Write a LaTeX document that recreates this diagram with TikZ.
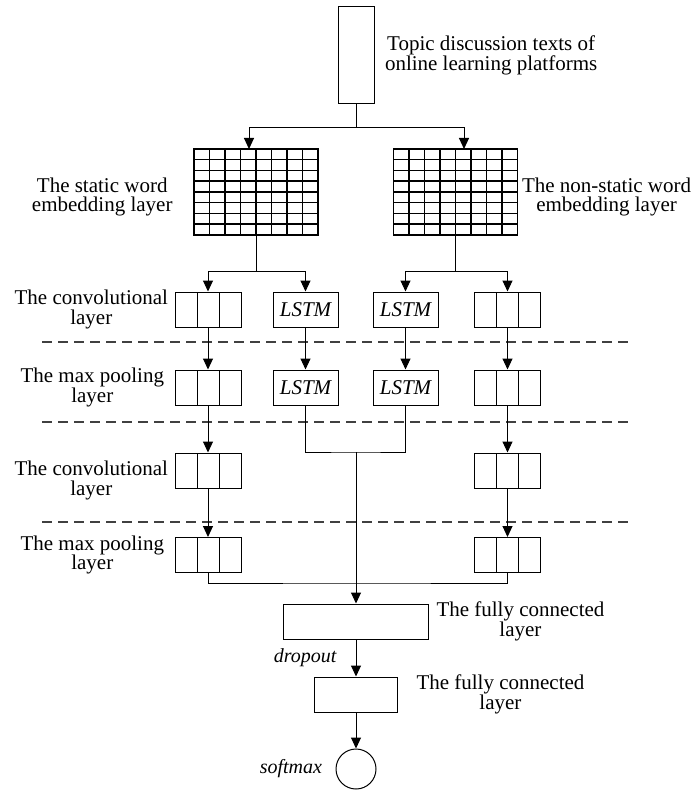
\documentclass[tikz,border=0pt]{standalone}
\usepackage{fontspec}
\setmainfont{Liberation Serif}
\usetikzlibrary{calc,positioning,arrows.meta}

\begin{document}
\begin{tikzpicture}[x=1pt,y=-1pt,line width=1pt,>={Triangle[length=11pt,width=10pt]},
	font=\fontsize{21pt}{19.5pt}\selectfont,
	every node/.style={inner sep=2pt},
	note/.style={font=\fontsize{20pt}{18pt}\selectfont\itshape},
	cellbox/.style={draw,minimum width=66pt,minimum height=35pt,
		path picture={\foreach \k in {1,2}
			\draw ($(path picture bounding box.south west)!\k/3!(path picture bounding box.south east)$)
				-- ($(path picture bounding box.north west)!\k/3!(path picture bounding box.north east)$);}},
	lstmbox/.style={draw,minimum width=65pt,minimum height=35pt,font=\fontsize{21pt}{18pt}\selectfont\itshape},
	embgrid/.style={draw,line width=1.5pt,outer sep=0pt,minimum width=124pt,minimum height=86pt},
	gridline/.style={line width=1.5pt},
	divider/.style={draw=black!75,line width=1.4pt,dash pattern=on 10pt off 6pt}]
	\useasboundingbox (0,0) rectangle (694,791);
	\begin{scope}
		% input and embeddings
		\node[draw,minimum width=36pt,minimum height=97pt] (1) at (356,55.5) {};
		\node(2) [right=8pt of 1,align=center] {Topic discussion texts of\\online learning platforms};
		\node[embgrid] (3) at (256,192) {};
		\node[embgrid] (4) at (455.5,192) {};
		\foreach \g in {3,4}
			\foreach \k in {1,...,7} {
				\draw[gridline] ($(\g.south west)!\k/8!(\g.south east)$) -- ($(\g.north west)!\k/8!(\g.north east)$);
				\draw[gridline] ($(\g.south west)!\k/8!(\g.north west)$) -- ($(\g.south east)!\k/8!(\g.north east)$);
			}
		\node(5) [left=19pt of 3,yshift=-5pt,align=center] {The static word\\embedding layer};
		\node(6) [right=2pt of 4,yshift=-5pt,align=center] {The non-static word\\embedding layer};

		% four branches
		\node[cellbox] (7) at (208,309.5) {};
		\node[lstmbox] (8) at (305.5,309.5) {LSTM};
		\node[lstmbox] (9) at (405.5,309.5) {LSTM};
		\node[cellbox] (10) at (507.5,309.5) {};
		\node[cellbox] (11) at (208,387.5) {};
		\node[lstmbox] (12) at (305.5,387.5) {LSTM};
		\node[lstmbox] (13) at (405.5,387.5) {LSTM};
		\node[cellbox] (14) at (507.5,387.5) {};
		\node[cellbox] (15) at (208,470.5) {};
		\node[cellbox] (16) at (507.5,470.5) {};
		\node[cellbox] (17) at (208,555) {};
		\node[cellbox] (18) at (507.5,555) {};
		\node(23) [left=4pt of 7,align=center] {The convolutional\\layer};
		\node(24) [left=8pt of 11,align=center] {The max pooling\\layer};
		\node(25) [left=4pt of 15,yshift=-10pt,align=center] {The convolutional\\layer};
		\node(26) [left=8pt of 17,align=center] {The max pooling\\layer};

		% output
		\node[draw,minimum width=145pt,minimum height=35pt] (19) at (356,621.5) {};
		\node[draw,minimum width=83pt,minimum height=35pt] (20) at (356,694.5) {};
		\node[draw,circle,minimum size=40pt] (21) at (356,769) {};
		\node(27) [right=5pt of 19,align=center] {The fully connected\\layer};
		\node(28) [right=16pt of 20,align=center] {The fully connected\\layer};
		\node(22) [left=11pt of 21,note] {softmax};

		% separators
		\draw[divider] (42,342) -- (631,342);
		\draw[divider] (42,422) -- (631,422);
		\draw[divider] (42,522) -- (631,522);

		% connectors
		\coordinate (a) at (356,128);
		\coordinate (b) at (256,271);
		\coordinate (c) at (455.5,271);
		\coordinate (d) at (356,452);
		\coordinate (e) at (356,583);
		\draw (1) -- (a);
		\draw[->] (a) -| ([xshift=-7pt]3.north);
		\draw[->] (a) -| ([xshift=8.5pt]4.north);
		\draw (3) -- (b);
		\draw[->] (b) -| (7);
		\draw[->] (b) -| (8);
		\draw (4) -- (c);
		\draw[->] (c) -| (9);
		\draw[->] (c) -| (10);
		\path[->]
			(7) edge (11)
			(8) edge (12)
			(9) edge (13)
			(10) edge (14)
			(11) edge (15)
			(14) edge (16)
			(15) edge (17)
			(16) edge (18);
		\draw (12) |- (d) -| (13);
		\draw[->] (d) -- (19);
		\draw (17) |- (e) -| (18);
		\draw[->] (19) -- node[left=17pt,note] {dropout} (20);
		\draw[->] (20) -- (21);
	\end{scope}
\end{tikzpicture}
\end{document}
